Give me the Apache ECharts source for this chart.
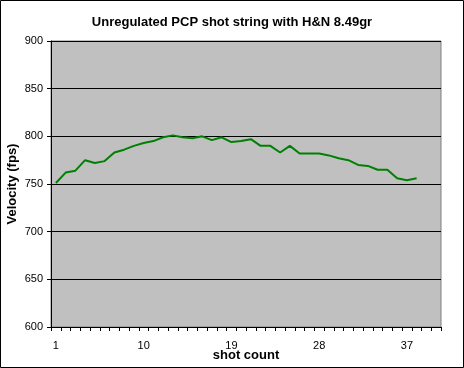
<!DOCTYPE html>
<html><head><meta charset="utf-8">
<script src="https://cdn.jsdelivr.net/npm/echarts@6/dist/echarts.min.js"></script>
<style>html,body{margin:0;padding:0;background:#fff}#c{width:464px;height:368px}</style>
</head><body><div id="c"></div>
<script>
const titleText = 'Unregulated PCP shot string with H&N 8.49gr';
const xName = 'shot count';
const yName = 'Velocity (fps)';
const categories = ['1','2','3','4','5','6','7','8','9','10','11','12','13','14','15','16','17','18','19','20','21','22','23','24','25','26','27','28','29','30','31','32','33','34','35','36','37','38','39','40'];
const velocity = [751,762,764,775,772,774,783,786,790,793,795,799,801,799,798,800,796,799,794,795,797,790,790,783,790,782,782,782,780,777,775,770,769,765,765,756,754,756];

const chart = echarts.init(document.getElementById('c'), null, {renderer:'canvas'});
const font = 'Liberation Sans, Arial, sans-serif';
chart.setOption({
  animation:false,
  graphic:[{type:'rect',shape:{x:0.5,y:0.5,width:463,height:367},style:{fill:'none',stroke:'#000',lineWidth:1},silent:true}],
  title:{text:titleText,left:'center',top:11,textStyle:{fontFamily:font,fontSize:13,fontWeight:'bold',color:'#000'}},
  grid:{left:51,right:23,top:41,bottom:41,show:true,backgroundColor:'#c0c0c0',borderColor:'#808080',borderWidth:1,containLabel:false,outerBoundsMode:'none'},
  xAxis:{type:'category',data:categories,boundaryGap:true,
    name:xName,nameLocation:'middle',nameGap:22,nameMoveOverlap:false,
    nameTextStyle:{fontFamily:font,fontSize:13,fontWeight:'bold',color:'#000'},
    axisLine:{lineStyle:{color:'#000',width:1}},
    axisTick:{show:true,interval:0,length:4,inside:false,lineStyle:{color:'#000'}},
    axisLabel:{interval:8,margin:13,hideOverlap:false,fontFamily:font,fontSize:11,color:'#000'},
    splitLine:{show:false}},
  yAxis:{type:'value',min:600,max:900,interval:50,
    name:yName,nameLocation:'middle',nameGap:32,nameRotate:90,nameMoveOverlap:false,
    nameTextStyle:{fontFamily:font,fontSize:13,fontWeight:'bold',color:'#000'},
    axisLine:{show:true,lineStyle:{color:'#000',width:1}},
    axisTick:{show:true,length:4,lineStyle:{color:'#000'}},
    axisLabel:{margin:8,fontFamily:font,fontSize:11,color:'#000'},
    splitLine:{show:true,lineStyle:{color:'#000',width:1}}},
  series:[{type:'line',data:velocity,showSymbol:false,symbol:'none',lineStyle:{color:'#008000',width:2},itemStyle:{color:'#008000'}}]
});
</script></body></html>
